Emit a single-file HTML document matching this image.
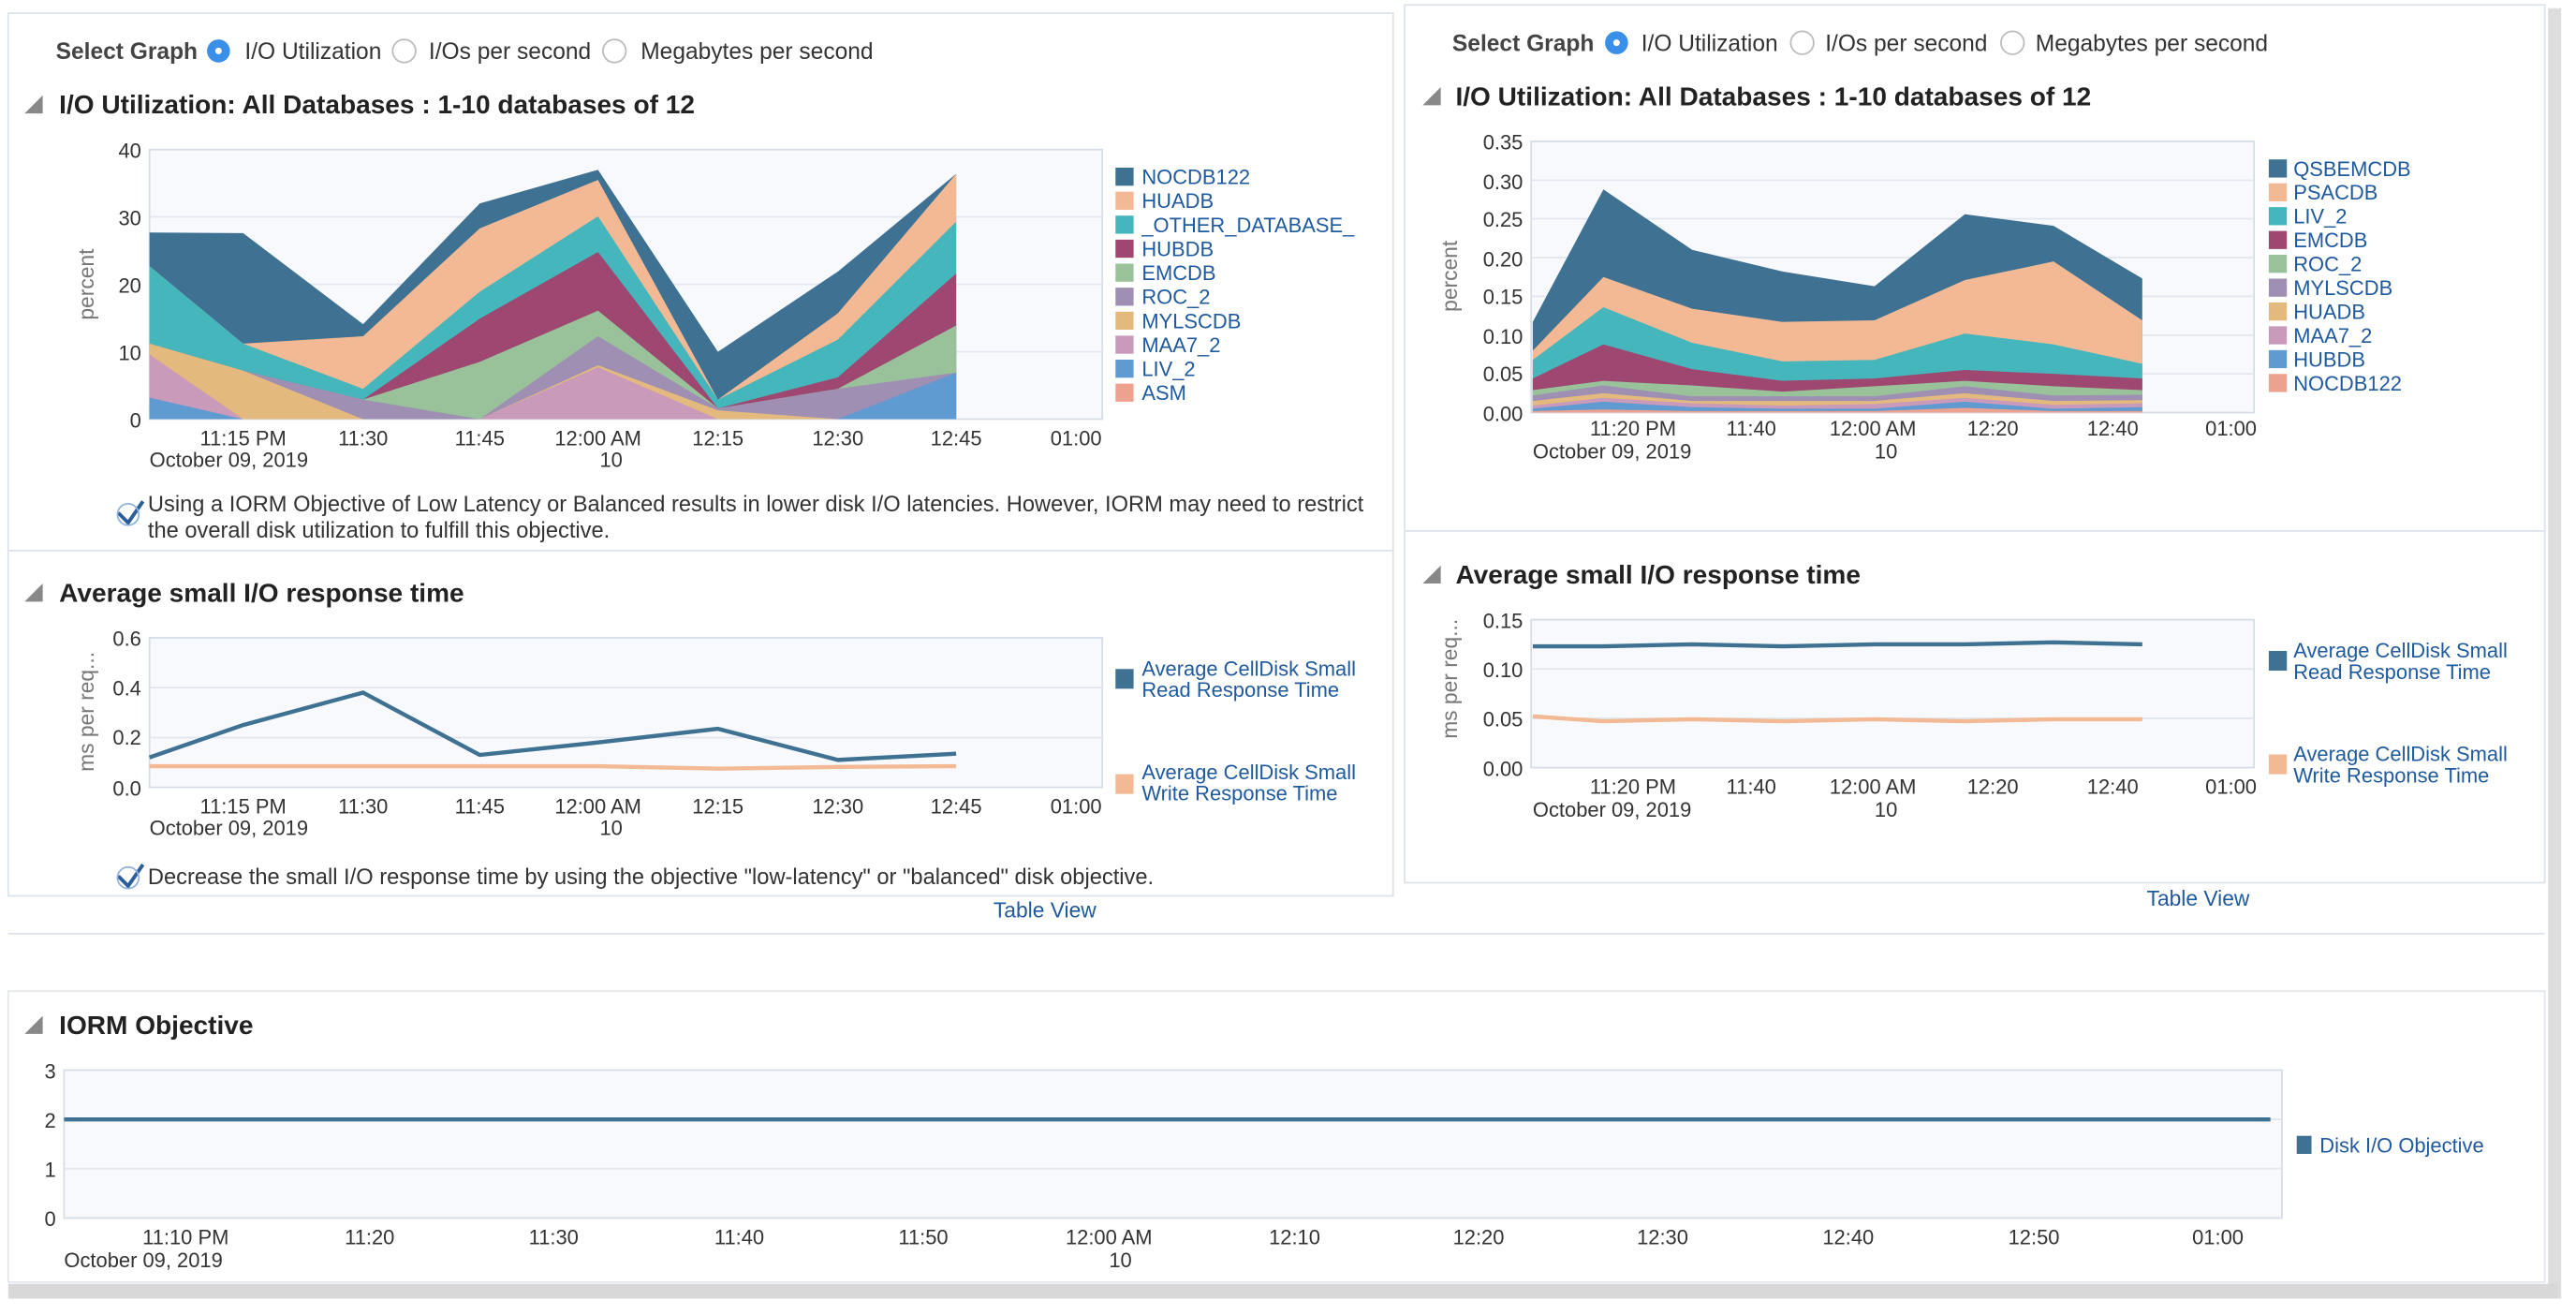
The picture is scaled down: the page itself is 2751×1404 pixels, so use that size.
<!DOCTYPE html>
<html><head><meta charset="utf-8">
<style>
html,body{margin:0;padding:0;background:#fff;width:2751px;height:1404px;overflow:hidden}
svg{display:block}
text{font-family:"Liberation Sans",Arial,sans-serif;fill:#333}
.t{font-size:12.5px}
.lg{font-size:12.5px;fill:#1f5a9e}
.h{font-size:16px;font-weight:bold;fill:#222}
.sg{font-size:14px;font-weight:bold;fill:#444}
.rl{font-size:14px;fill:#333}
.ax{font-size:13px;fill:#777}
</style></head><body>
<svg id="s" width="2751" height="1404" viewBox="0 0 1568 800" preserveAspectRatio="none" xmlns="http://www.w3.org/2000/svg">
<rect x="0" y="0" width="1568" height="800" fill="#fff"/>
<!-- shadows -->
<rect x="1551" y="5" width="8" height="785" fill="#ddd"/>
<rect x="5" y="781" width="1552" height="9" fill="#d8d8d8"/>
<!-- panels -->
<rect x="5" y="8" width="843" height="537" fill="#fff" stroke="#dde3ea"/>
<line x1="5" y1="335" x2="848" y2="335" stroke="#dde3ea"/>
<rect x="855" y="3" width="694" height="534" fill="#fff" stroke="#dde3ea"/>
<line x1="855" y1="323" x2="1549" y2="323" stroke="#dde3ea"/>
<line x1="5" y1="568" x2="1549" y2="568" stroke="#dde3ea"/>
<rect x="5" y="603" width="1544" height="177" fill="#fff" stroke="#e3e7ec"/>

<!-- headers left -->
<text class="sg" x="34" y="36">Select Graph</text>
<circle cx="133" cy="31" r="7" fill="#3a8fe8"/><circle cx="133" cy="31" r="2" fill="#fff"/>
<text class="rl" x="149" y="36">I/O Utilization</text>
<circle cx="246" cy="31" r="7" fill="#fff" stroke="#bbb"/>
<text class="rl" x="261" y="36">I/Os per second</text>
<circle cx="374" cy="31" r="7" fill="#fff" stroke="#bbb"/>
<text class="rl" x="390" y="36">Megabytes per second</text>
<polygon points="15,69 26,69 26,58" fill="#888"/>
<text class="h" x="36" y="69">I/O Utilization: All Databases : 1-10 databases of 12</text>
<!-- headers right -->
<text class="sg" x="884" y="31">Select Graph</text>
<circle cx="984" cy="26" r="7" fill="#3a8fe8"/><circle cx="984" cy="26" r="2" fill="#fff"/>
<text class="rl" x="999" y="31">I/O Utilization</text>
<circle cx="1097" cy="26" r="7" fill="#fff" stroke="#bbb"/>
<text class="rl" x="1111" y="31">I/Os per second</text>
<circle cx="1225" cy="26" r="7" fill="#fff" stroke="#bbb"/>
<text class="rl" x="1239" y="31">Megabytes per second</text>
<polygon points="866,64 877,64 877,53" fill="#888"/>
<text class="h" x="886" y="64">I/O Utilization: All Databases : 1-10 databases of 12</text>

<!-- plot areas -->
<rect x="91" y="91" width="580" height="164" fill="#f8f9fd" stroke="#d6dce6"/>
<rect x="932" y="86" width="440" height="165" fill="#f8f9fd" stroke="#d6dce6"/>
<rect x="91" y="388" width="580" height="91" fill="#f8f9fd" stroke="#d6dce6"/>
<rect x="932" y="377" width="440" height="90" fill="#f8f9fd" stroke="#d6dce6"/>
<rect x="39" y="651" width="1350" height="90" fill="#f8f9fd" stroke="#d6dce6"/>
<g id="grid" stroke="#e2e6ee" stroke-width="1"></g>
<g id="areas"></g>
<g id="lines" fill="none"></g>

<!-- left top axes -->
<g class="t" text-anchor="end">
<text x="86" y="96">40</text><text x="86" y="137">30</text><text x="86" y="178">20</text><text x="86" y="219">10</text><text x="86" y="260">0</text>
</g>
<text class="ax" transform="translate(57,173) rotate(-90)" text-anchor="middle">percent</text>
<g class="t" text-anchor="middle">
<text x="148" y="271">11:15 PM</text><text x="221" y="271">11:30</text><text x="292" y="271">11:45</text><text x="364" y="271">12:00 AM</text><text x="437" y="271">12:15</text><text x="510" y="271">12:30</text><text x="582" y="271">12:45</text><text x="655" y="271">01:00</text>
<text x="372" y="284">10</text>
</g>
<text class="t" x="91" y="284">October 09, 2019</text>
<g id="leg1"></g>
<text x="90" y="311" style="font-size:13.5px">Using a IORM Objective of Low Latency or Balanced results in lower disk I/O latencies. However, IORM may need to restrict</text>
<text x="90" y="327" style="font-size:13.5px">the overall disk utilization to fulfill this objective.</text>
<path d="M72,312 L78,318 L87,305" stroke="#2a5d9a" stroke-width="2.2" fill="none"/>
<circle cx="78" cy="313" r="6.5" fill="none" stroke="#8fb3d9" stroke-width="1"/>

<!-- right top axes -->
<g class="t" text-anchor="end">
<text x="927" y="91">0.35</text><text x="927" y="115">0.30</text><text x="927" y="138">0.25</text><text x="927" y="162">0.20</text><text x="927" y="185">0.15</text><text x="927" y="209">0.10</text><text x="927" y="232">0.05</text><text x="927" y="256">0.00</text>
</g>
<text class="ax" transform="translate(887,168) rotate(-90)" text-anchor="middle">percent</text>
<g class="t" text-anchor="middle">
<text x="994" y="265">11:20 PM</text><text x="1066" y="265">11:40</text><text x="1140" y="265">12:00 AM</text><text x="1213" y="265">12:20</text><text x="1286" y="265">12:40</text><text x="1358" y="265">01:00</text>
<text x="1148" y="279">10</text>
</g>
<text class="t" x="933" y="279">October 09, 2019</text>
<g id="leg2"></g>

<!-- left bottom -->
<polygon points="15,366 26,366 26,355" fill="#888"/>
<text class="h" x="36" y="366">Average small I/O response time</text>
<g class="t" text-anchor="end">
<text x="86" y="393">0.6</text><text x="86" y="423">0.4</text><text x="86" y="453">0.2</text><text x="86" y="484">0.0</text>
</g>
<text class="ax" transform="translate(57,433) rotate(-90)" text-anchor="middle">ms per req...</text>
<g class="t" text-anchor="middle">
<text x="148" y="495">11:15 PM</text><text x="221" y="495">11:30</text><text x="292" y="495">11:45</text><text x="364" y="495">12:00 AM</text><text x="437" y="495">12:15</text><text x="510" y="495">12:30</text><text x="582" y="495">12:45</text><text x="655" y="495">01:00</text>
<text x="372" y="508">10</text>
</g>
<text class="t" x="91" y="508">October 09, 2019</text>
<rect x="679" y="407" width="11" height="12" fill="#3e7192"/>
<text class="lg" x="695" y="411">Average CellDisk Small</text><text class="lg" x="695" y="424">Read Response Time</text>
<rect x="679" y="471" width="11" height="12" fill="#f2b994"/>
<text class="lg" x="695" y="474">Average CellDisk Small</text><text class="lg" x="695" y="487">Write Response Time</text>
<text x="90" y="538" style="font-size:13.5px">Decrease the small I/O response time by using the objective "low-latency" or "balanced" disk objective.</text>
<path d="M72,533 L78,539 L87,526" stroke="#2a5d9a" stroke-width="2.2" fill="none"/>
<circle cx="78" cy="534" r="6.5" fill="none" stroke="#8fb3d9" stroke-width="1"/>
<text class="lg" x="636" y="558" text-anchor="middle" style="font-size:13px">Table View</text>

<!-- right bottom -->
<polygon points="866,355 877,355 877,344" fill="#888"/>
<text class="h" x="886" y="355">Average small I/O response time</text>
<g class="t" text-anchor="end">
<text x="927" y="382">0.15</text><text x="927" y="412">0.10</text><text x="927" y="442">0.05</text><text x="927" y="472">0.00</text>
</g>
<text class="ax" transform="translate(887,413) rotate(-90)" text-anchor="middle">ms per req...</text>
<g class="t" text-anchor="middle">
<text x="994" y="483">11:20 PM</text><text x="1066" y="483">11:40</text><text x="1140" y="483">12:00 AM</text><text x="1213" y="483">12:20</text><text x="1286" y="483">12:40</text><text x="1358" y="483">01:00</text>
<text x="1148" y="497">10</text>
</g>
<text class="t" x="933" y="497">October 09, 2019</text>
<rect x="1381" y="396" width="11" height="12" fill="#3e7192"/>
<text class="lg" x="1396" y="400">Average CellDisk Small</text><text class="lg" x="1396" y="413">Read Response Time</text>
<rect x="1381" y="459" width="11" height="12" fill="#f2b994"/>
<text class="lg" x="1396" y="463">Average CellDisk Small</text><text class="lg" x="1396" y="476">Write Response Time</text>
<text class="lg" x="1338" y="551" text-anchor="middle" style="font-size:13px">Table View</text>

<!-- bottom -->
<polygon points="15,629 26,629 26,618" fill="#888"/>
<text class="h" x="36" y="629">IORM Objective</text>
<g class="t" text-anchor="end">
<text x="34" y="656">3</text><text x="34" y="686">2</text><text x="34" y="716">1</text><text x="34" y="746">0</text>
</g>
<g class="t" text-anchor="middle">
<text x="113" y="757">11:10 PM</text><text x="225" y="757">11:20</text><text x="337" y="757">11:30</text><text x="450" y="757">11:40</text><text x="562" y="757">11:50</text><text x="675" y="757">12:00 AM</text><text x="788" y="757">12:10</text><text x="900" y="757">12:20</text><text x="1012" y="757">12:30</text><text x="1125" y="757">12:40</text><text x="1238" y="757">12:50</text><text x="1350" y="757">01:00</text>
<text x="682" y="771">10</text>
</g>
<text class="t" x="39" y="771">October 09, 2019</text>
<rect x="1398" y="691" width="9" height="11" fill="#3e7192"/>
<text class="lg" x="1412" y="701">Disk I/O Objective</text>
</svg>
<script>
var NS="http://www.w3.org/2000/svg";
function el(p,t,a){var e=document.createElementNS(NS,t);for(var k in a)e.setAttribute(k,a[k]);document.getElementById(p).appendChild(e);return e;}
// grids
[132,173,214].forEach(function(y){el("grid","line",{x1:91,x2:671,y1:y,y2:y});});
[109.6,133.1,156.7,180.3,203.9,227.4].forEach(function(y){el("grid","line",{x1:932,x2:1372,y1:y,y2:y});});
[418.3,448.7].forEach(function(y){el("grid","line",{x1:91,x2:671,y1:y,y2:y});});
[407,437].forEach(function(y){el("grid","line",{x1:932,x2:1372,y1:y,y2:y});});
[681,711].forEach(function(y){el("grid","line",{x1:39,x2:1389,y1:y,y2:y});});
var C={db:"#3e7192",pe:"#f2b994",te:"#45b6bb",ma:"#9e4770",gr:"#99c19a",pu:"#9e8fb3",ta:"#e3b97e",pi:"#c99ab9",bl:"#5f9bd1",sa:"#eda18f"};
function area(xs,vals,y0,k,col){var p=[];for(var i=0;i<xs.length;i++)p.push(xs[i]+","+(y0-vals[i]*k));p.push(xs[xs.length-1]+","+y0);p.push(xs[0]+","+y0);el("areas","polygon",{points:p.join(" "),fill:col});}
var X1=[91,148,221,292,364,437,510,582];
var L1=[["db",[27.7,27.6,14.1,32,37,10,21.9,36.4]],["pe",[22.7,11.2,12.3,28.3,35.5,2.9,15.7,36.4]],["te",[22.7,11.2,4.5,18.9,30.1,2.9,11.8,29.3]],["ma",[11.2,7.2,2.9,14.9,24.8,1.6,6.2,21.6]],["gr",[11.2,7.2,2.9,8.5,16.1,1.6,4.5,13.9]],["pu",[11.2,7.2,2.9,0,12.3,1.6,4.5,6.9]],["ta",[11.2,7.2,0,0,8.0,1.3,0,0]],["pi",[9.6,0,0,0,7.7,0,0,0]],["bl",[3.2,0,0,0,0,0,0,6.9]]];
L1.forEach(function(l){area(X1,l[1],255,4.1,C[l[0]]);});
var X2=[933,976,1030,1085,1141,1196,1250,1304];
var L2=[["db",[.117,.288,.210,.182,.163,.256,.241,.173]],["pe",[.080,.175,.134,.117,.119,.171,.195,.119]],["te",[.068,.136,.090,.066,.068,.102,.088,.063]],["ma",[.044,.088,.056,.041,.044,.055,.050,.044]],["gr",[.029,.041,.035,.027,.034,.041,.034,.029]],["pu",[.022,.035,.021,.021,.021,.034,.022,.023]],["ta",[.015,.025,.015,.015,.015,.025,.015,.016]],["pi",[.009,.019,.012,.009,.011,.019,.010,.012]],["bl",[.005,.014,.007,.005,.005,.014,.005,.007]],["sa",[.002,.004,.002,.002,.002,.006,.002,.002]]];
L2.forEach(function(l){area(X2,l[1],251,471.4,C[l[0]]);});
function line(xs,vals,y0,k,col,w){var p=[];for(var i=0;i<xs.length;i++)p.push(xs[i]+","+(y0-vals[i]*k));el("lines","polyline",{points:p.join(" "),stroke:col,"stroke-width":w});}
line(X1,[.085,.085,.085,.085,.085,.075,.082,.085],479,151.7,"#f2b994",2.5);
line(X1,[.12,.25,.38,.13,.18,.235,.11,.135],479,151.7,"#3e7192",2.5);
line(X2,[.052,.047,.049,.047,.049,.047,.049,.049],467,600,"#f2b994",2.5);
line(X2,[.123,.123,.125,.123,.125,.125,.127,.125],467,600,"#3e7192",2.5);
el("lines","line",{x1:39,x2:1382,y1:681,y2:681,stroke:"#3e7192","stroke-width":2.5});
// legends
var n1=["NOCDB122","HUADB","_OTHER_DATABASE_","HUBDB","EMCDB","ROC_2","MYLSCDB","MAA7_2","LIV_2","ASM"];
var c1=["db","pe","te","ma","gr","pu","ta","pi","bl","sa"];
n1.forEach(function(n,i){var y=102+i*14.6;el("leg1","rect",{x:679,y:y,width:11,height:11,fill:C[c1[i]]});var t=el("leg1","text",{x:695,y:y+10,"class":"lg"});t.textContent=n;});
var n2=["QSBEMCDB","PSACDB","LIV_2","EMCDB","ROC_2","MYLSCDB","HUADB","MAA7_2","HUBDB","NOCDB122"];
n2.forEach(function(n,i){var y=97+i*14.5;el("leg2","rect",{x:1381,y:y,width:11,height:11,fill:C[c1[i]]});var t=el("leg2","text",{x:1396,y:y+10,"class":"lg"});t.textContent=n;});
</script>
</body></html>
